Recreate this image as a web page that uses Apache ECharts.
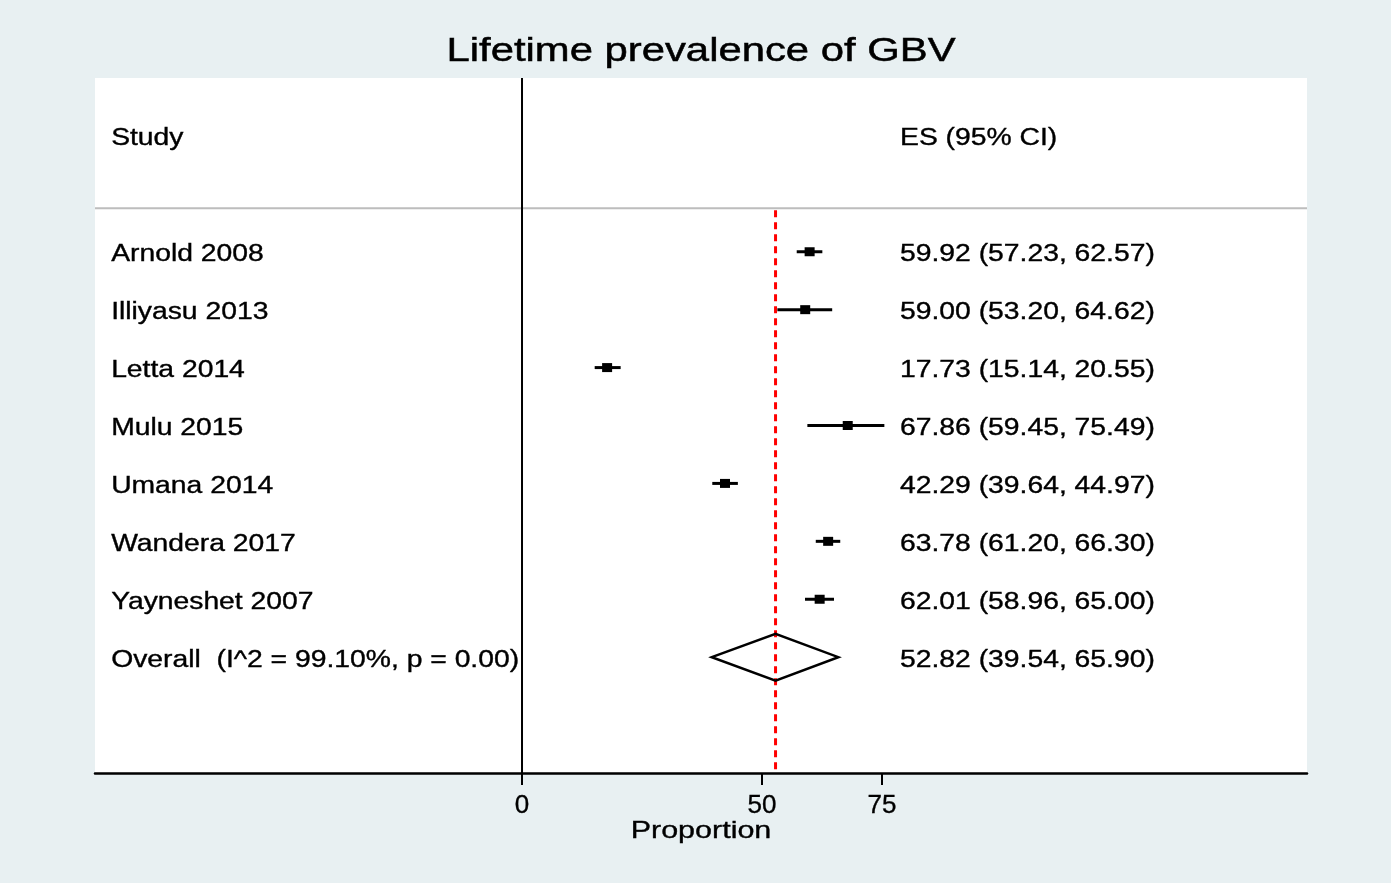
<!DOCTYPE html>
<html><head><meta charset="utf-8">
<script src="https://cdn.jsdelivr.net/npm/echarts@6/dist/echarts.min.js"></script>
<style>html,body{margin:0;padding:0;background:#E8F0F2}#c{width:1391px;height:883px}</style>
</head><body><div id="c"></div>
<script>
// ---- data ----
const studies = ['Arnold 2008','Illiyasu 2013','Letta 2014','Mulu 2015','Umana 2014','Wandera 2017','Yayneshet 2007'];
const es    = [59.92, 59.00, 17.73, 67.86, 42.29, 63.78, 62.01];
const lower = [57.23, 53.20, 15.14, 59.45, 39.64, 61.20, 58.96];
const upper = [62.57, 64.62, 20.55, 75.49, 44.97, 66.30, 65.00];
const overallLabel = 'Overall  (I^2 = 99.10%, p = 0.00)';
const overallES = 52.82, overallLower = 39.54, overallUpper = 65.90;
const headerStudy = 'Study';
const headerES = 'ES (95% CI)';
const xTicks = [0, 50, 75];
const chartTitle = 'Lifetime prevalence of GBV';
const xName = 'Proportion';

// ---- layout constants ----
const X_MIN = -88.96, X_MAX = 163.54;
const Y_MIN = -3, Y_MAX = 9;
const HEADER_ROW = -2, DIVIDER_ROW = -0.75;
const COL_STUDY = -85.6, COL_ES = 78.75;
const FONT = 'Liberation Sans';
const SX = 1.23;
const TEXT_STROKE = 0.35;

const fmt = (e, l, u) => e.toFixed(2) + ' (' + l.toFixed(2) + ', ' + u.toFixed(2) + ')';
const overallRow = studies.length;

const textItems = [];
textItems.push({t: headerStudy, c: COL_STUDY, r: HEADER_ROW});
textItems.push({t: headerES, c: COL_ES, r: HEADER_ROW});
studies.forEach((s, i) => {
  textItems.push({t: s, c: COL_STUDY, r: i});
  textItems.push({t: fmt(es[i], lower[i], upper[i]), c: COL_ES, r: i});
});
textItems.push({t: overallLabel, c: COL_STUDY, r: overallRow});
textItems.push({t: fmt(overallES, overallLower, overallUpper), c: COL_ES, r: overallRow});

const chart = echarts.init(document.getElementById('c'), null, {renderer: 'canvas'});
chart.setOption({
  animation: false,
  backgroundColor: '#E8F0F2',
  grid: {left: 95, right: 84, top: 78, bottom: 110, show: true, backgroundColor: '#ffffff', borderWidth: 0},
  xAxis: {
    type: 'value', min: X_MIN, max: X_MAX,
    axisLine: {show: true, onZero: false, lineStyle: {color: '#000', width: 2.5}},
    axisTick: {show: true, customValues: xTicks, length: 12, inside: false, lineStyle: {color: '#000', width: 2}},
    axisLabel: {show: true, customValues: xTicks, fontSize: 26, fontFamily: FONT, color: '#000', margin: 20,
      textBorderColor: '#000', textBorderWidth: 0.35},
    splitLine: {show: false}
  },
  yAxis: {type: 'value', min: Y_MIN, max: Y_MAX, inverse: true, show: false},
  graphic: [
    {type: 'text', x: 701, y: 52, scaleX: SX, style: {text: chartTitle, fill: '#000', stroke: '#000', lineWidth: 0.5, fontSize: 34, fontFamily: FONT, align: 'center', verticalAlign: 'middle'}},
    {type: 'text', x: 701, y: 831, scaleX: 1.27, style: {text: xName, fill: '#000', stroke: '#000', lineWidth: TEXT_STROKE, fontSize: 24, fontFamily: FONT, align: 'center', verticalAlign: 'middle'}}
  ],
  series: [
    {
      type: 'custom', name: 'frame', silent: true, z: 1,
      data: [[0]],
      renderItem: (params, api) => {
        const a = api.coord([api.value(0), Y_MIN]);
        const b = api.coord([api.value(0), Y_MAX]);
        const c = api.coord([X_MIN, DIVIDER_ROW]);
        const d = api.coord([X_MAX, DIVIDER_ROW]);
        return {type: 'group', children: [
          {type: 'line', shape: {x1: c[0], y1: c[1], x2: d[0], y2: d[1]}, style: {stroke: '#BDBDBD', lineWidth: 2}},
          {type: 'line', shape: {x1: a[0], y1: a[1], x2: b[0], y2: b[1]}, style: {stroke: '#000', lineWidth: 2}}
        ]};
      }
    },
    {
      type: 'custom', name: 'ref', silent: true, z: 2,
      data: [[overallES]],
      renderItem: (params, api) => {
        const a = api.coord([api.value(0), DIVIDER_ROW]);
        const b = api.coord([api.value(0), Y_MAX]);
        return {type: 'line', shape: {x1: a[0], y1: a[1] + 2, x2: b[0], y2: b[1]}, style: {stroke: '#FF0000', lineWidth: 3, lineDash: [7, 5]}};
      }
    },
    {
      type: 'custom', name: 'overall', silent: true, z: 3,
      encode: {x: [0, 1, 2], y: 3},
      data: [[overallES, overallLower, overallUpper, overallRow]],
      renderItem: (params, api) => {
        const r = api.value(3), h = 0.405;
        const L = api.coord([api.value(1), r]);
        const R = api.coord([api.value(2), r]);
        const T = api.coord([api.value(0), r - h]);
        const B = api.coord([api.value(0), r + h]);
        return {type: 'polygon', shape: {points: [L, T, R, B]}, style: {fill: 'none', stroke: '#000', lineWidth: 2.5}};
      }
    },
    {
      type: 'custom', name: 'studies', silent: true, z: 4,
      encode: {x: [0, 1, 2], y: 3},
      data: studies.map((s, i) => [lower[i], upper[i], es[i], i]),
      renderItem: (params, api) => {
        const r = api.value(3);
        const a = api.coord([api.value(0), r]);
        const b = api.coord([api.value(1), r]);
        const c = api.coord([api.value(2), r]);
        return {type: 'group', children: [
          {type: 'line', shape: {x1: a[0], y1: a[1], x2: b[0], y2: b[1]}, style: {stroke: '#000', lineWidth: 3}},
          {type: 'rect', shape: {x: c[0] - 5, y: c[1] - 4.5, width: 10, height: 9}, style: {fill: '#000'}}
        ]};
      }
    },
    {
      type: 'custom', name: 'texts', silent: true, z: 5,
      encode: {x: 0, y: 1},
      data: textItems.map(d => [d.c, d.r]),
      renderItem: (params, api) => {
        const it = textItems[params.dataIndex];
        const p = api.coord([api.value(0), api.value(1)]);
        return {type: 'text', x: p[0], y: p[1] + 3, scaleX: SX,
          style: {text: it.t, fill: '#000', stroke: '#000', lineWidth: TEXT_STROKE, fontSize: 23, fontFamily: FONT, align: 'left', verticalAlign: 'middle'}};
      }
    }
  ]
});
</script>
</body></html>
